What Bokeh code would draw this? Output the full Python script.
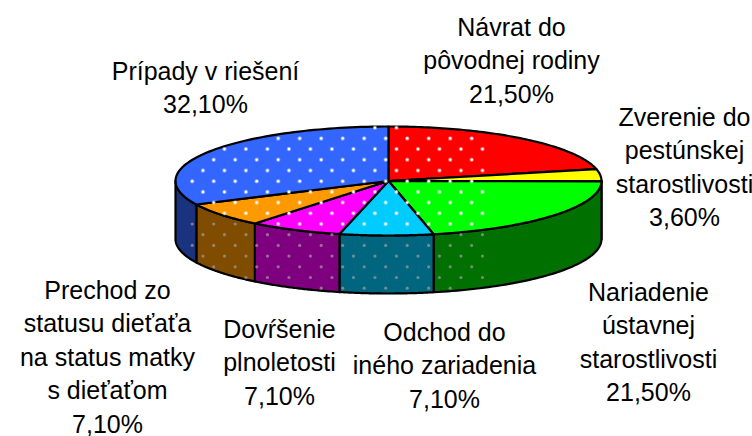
import numpy as np
from bokeh.plotting import figure
from bokeh.models import Range1d
from bokeh.core.properties import value
from bokeh.embed import file_html
from bokeh.resources import INLINE

shares = [21.5, 3.6, 21.5, 7.1, 7.1, 7.1, 32.1]
top_colors = ["#ff0000", "#ffff00", "#00ff00", "#00ccff", "#ff00ff", "#ff9900", "#3366ff"]
side_colors = ["#7f0000", "#7f7f00", "#007000", "#00667f", "#7f007f", "#7f4c00", "#19337f"]
label_lines = [
    ["Návrat do", "pôvodnej rodiny"],
    ["Zverenie do", "pestúnskej", "starostlivosti"],
    ["Nariadenie", "ústavnej", "starostlivosti"],
    ["Odchod do", "iného zariadenia"],
    ["Dovŕšenie", "plnoletosti"],
    ["Prechod zo", "statusu dieťaťa", "na status matky", "s dieťaťom"],
    ["Prípady v riešení"],
]
# label block: centre x, first-line y (page pixels)
label_x = [511, 684, 648, 444, 279, 107, 205]
label_y = [26, 116, 291, 331, 328, 289, 70]
line_step = 33.5

CX, CY, RX, RY, DEPTH = 388, 180.5, 213, 54.5, 58

def pt(deg):
    t = np.radians(deg)
    return CX + RX * np.sin(t), CY - RY * np.cos(t)

edges = np.concatenate([[0], np.cumsum(shares) / sum(shares) * 360])

p = figure(width=752, height=436, output_backend="svg", toolbar_location=None,
           x_range=Range1d(0, 752), y_range=Range1d(436, 0),
           min_border=0, outline_line_color=None, background_fill_color="white")
p.axis.visible = False
p.grid.visible = False

# rim panels (only the front half of the disc is visible)
for i in range(len(shares)):
    a, b = max(edges[i], 90), min(edges[i + 1], 270)
    if b <= a:
        continue
    th = np.linspace(a, b, 60)
    x, y = pt(th)
    p.patch(np.r_[x, x[::-1]], np.r_[y, y[::-1] + DEPTH], fill_color=side_colors[i],
            line_color="black", line_width=2.2, line_join="round")

# top wedges
for i in range(len(shares)):
    th = np.linspace(edges[i], edges[i + 1], 80)
    x, y = pt(th)
    p.patch(np.r_[CX, x], np.r_[CY, y], fill_color=top_colors[i],
            line_color="black", line_width=2.2, line_join="round")

# dotted texture
ix, iy = np.meshgrid(np.arange(-12, 14), np.arange(-12, 26))
lx = 191.7 + 21.5 * ix + 10.75 * (iy % 2)
ly = 180.7 + 10.7 * iy
lx, ly = lx.ravel(), ly.ravel()
u, v = (lx - CX) / RX, (ly - CY) / RY
r2 = u ** 2 + v ** 2
on_top = r2 < 0.97
ang = np.degrees(np.arctan2(u, -v)) % 360
on_top &= ~((ang > edges[1]) & (ang < edges[2]))
vb = (ly - DEPTH - CY) / RY
on_side = (r2 > 1.03) & (u ** 2 < 0.98) & (v > 0) & (u ** 2 + vb ** 2 < 0.95)
p.scatter(lx[on_top], ly[on_top], size=4.5, marker="circle", color="white", line_color=None, alpha=0.35)
p.scatter(lx[on_top], ly[on_top], size=2.6, marker="circle", color="white", line_color=None)
p.scatter(lx[on_side], ly[on_side], size=3.2, marker="circle", color="#a0a0a0", line_color=None, alpha=0.7)

# labels
tx, ty, tt = [], [], []
for lines, x0, y0, s in zip(label_lines, label_x, label_y, shares):
    rows = lines + [f"{s:.2f}%".replace(".", ",")]
    for k, row in enumerate(rows):
        tx.append(x0); ty.append(y0 + k * line_step); tt.append(row)
p.text(tx, ty, text=tt, text_font=value("Liberation Sans"), text_font_size="25px",
       text_align="center", text_baseline="middle", text_color="black")

open("out.html", "w").write(file_html(p, INLINE))
